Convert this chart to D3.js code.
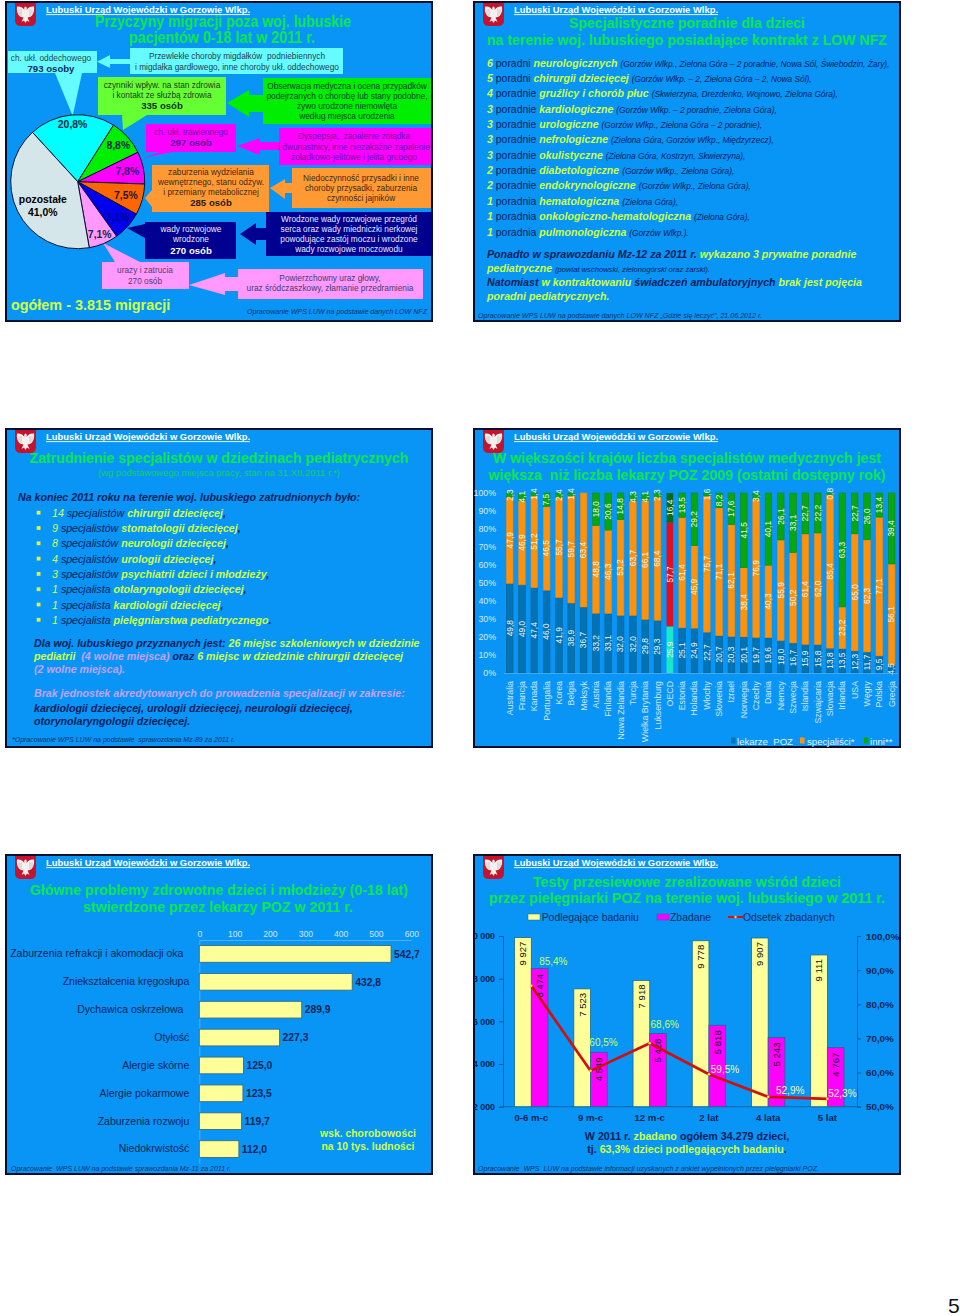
<!DOCTYPE html>
<html lang="pl">
<head>
<meta charset="utf-8">
<title>Lubuski Urząd Wojewódzki</title>
<script src="https://cdnjs.cloudflare.com/ajax/libs/d3/7.8.5/d3.min.js"></script>
<style>
html,body{margin:0;padding:0;background:#fff}
svg{display:block}
text{font-family:"Liberation Sans",Arial,sans-serif}
</style>
</head>
<body>
<svg id="page" width="960" height="1316" viewBox="0 0 960 1316"></svg>
<script>
// ---------- DATA ----------
const pieLabels = ["20,8%","8,8%","7,8%","7,5%","7,1%","7,1%","41,0%"];
const pieValues = [20.8,8.8,7.8,7.5,7.1,7.1,41.0];

const clinicCounts = ["6","5","4","3","3","3","3","2","2","1","1","1"];
const clinicWords  = ["poradni","poradni","poradnie","poradnie","poradnie","poradnie","poradnie","poradnie","poradnie","poradnia","poradnia","poradnia"];
const clinicNames  = ["neurologicznych","chirurgii dziecięcej","gruźlicy i chorób płuc","kardiologiczne","urologiczne","nefrologiczne","okulistyczne","diabetologiczne","endokrynologiczne","hematologiczna","onkologiczno-hematologiczna","pulmonologiczna"];
const clinicPlaces = ["(Gorzów Wlkp., Zielona Góra – 2 poradnie, Nowa Sól, Świebodzin, Żary),","(Gorzów Wlkp. – 2, Zielona Góra – 2, Nowa Sól),","(Skwierzyna, Drezdenko, Wojnowo, Zielona Góra),","(Gorzów Wlkp. – 2 poradnie, Zielona Góra),","(Gorzów Wlkp., Zielona Góra – 2 poradnie),","(Zielona Góra, Gorzów Wlkp., Międzyrzecz),","(Zielona Góra, Kostrzyn, Skwierzyna),","(Gorzów Wlkp., Zielona Góra),","(Gorzów Wlkp., Zielona Góra),","(Zielona Góra),","(Zielona Góra),","(Gorzów Wlkp.)."];

const specCounts = ["14","9","8","4","3","1","1","1"];
const specWords  = ["specjalistów","specjalistów","specjalistów","specjalistów","specjalistów","specjalista","specjalista","specjalista"];
const specNames  = ["chirurgii dziecięcej","stomatologii dziecięcej","neurologii dziecięcej","urologii dziecięcej","psychiatrii dzieci i młodzieży","otolaryngologii dziecięcej","kardiologii dziecięcej","pielęgniarstwa pediatrycznego"];

const countries = ["Australia","Francja","Kanada","Portugalia","Korea","Belgia","Meksyk","Austria","Finlandia","Nowa Zelandia","Turcja","Wielka Brytania","Luksemburg","OECD","Estonia","Holandia","Włochy","Słowenia","Izrael","Norwegia","Czechy","Dania","Niemcy","Szwecja","Islandia","Szwajcaria","Słowacja","Irlandia","USA","Węgry","Polska","Grecja"];
const gpShare    = [49.8,49.0,47.4,46.0,41.9,38.9,36.7,33.2,33.1,32.0,32.0,29.8,29.3,25.9,25.1,24.9,22.7,20.7,20.3,20.1,19.7,19.6,18.0,16.7,15.9,15.8,13.8,13.5,12.3,11.7,9.5,4.5];
const specShare  = [47.9,46.9,51.2,46.5,55.7,59.7,63.4,48.8,46.3,53.2,63.7,66.1,68.4,57.7,61.4,45.9,75.7,71.1,62.1,38.4,76.9,40.3,55.9,50.2,61.4,62.0,85.4,23.2,65.0,62.3,77.1,56.1];
const otherShare = [2.3,4.1,1.4,7.5,2.4,1.4,0,18.0,20.6,14.8,4.3,4.1,2.3,16.4,13.5,29.2,1.6,8.2,17.6,41.5,3.4,40.1,26.1,33.1,22.7,22.2,0.8,63.3,22.7,26.0,13.4,39.4];

const problemNames  = ["Zaburzenia refrakcji i akomodacji oka\u00A0\u00A0","Zniekształcenia kręgosłupa","Dychawica oskrzelowa\u00A0\u00A0","Otyłość","Alergie skórne","Alergie pokarmowe","Zaburzenia rozwoju","Niedokrwistość"];
const problemValues = [542.7,432.8,289.9,227.3,125.0,123.5,119.7,112.0];
const problemTicks  = [0,100,200,300,400,500,600];

const ageGroups   = ["0-6 m-c","9 m-c","12 m-c","2 lat","4 lata","5 lat"];
const eligible    = [9927,7523,7918,9778,9907,9111];
const examined    = [8474,4549,5428,5818,5243,4767];
const examinedPct = [85.4,60.5,68.6,59.5,52.9,52.3];
const countTicks  = [2000,4000,6000,8000,10000];
const pctTicks    = [50,60,70,80,90,100];

// ---------- STYLE ----------
const C = {panel:"#0895f6", edge:"#06102e", title:"#0de74e", navy:"#00205c", yellow:"#ccff44", lav:"#c9a0f5", white:"#ffffff", ax:"#dbe9f6"};
const svg = d3.select("#page");
svg.append("rect").attr("width",960).attr("height",1316).attr("fill","#fff");

function txt(g,x,y,s,o={}){
  return g.append("text").attr("x",x).attr("y",y).text(s)
    .attr("font-size",o.size||8.3).attr("fill",o.fill||"#000")
    .attr("font-weight",o.bold?"bold":"normal").attr("font-style",o.italic?"italic":"normal")
    .attr("text-anchor",o.anchor||"start");
}
function rich(g,x,y,parts,anchor){
  const t=g.append("text").attr("x",x).attr("y",y).attr("text-anchor",anchor||"start").attr("xml:space","preserve");
  parts.forEach(p=>t.append("tspan").text(p[0]).attr("fill",p[1]||C.navy).attr("font-size",p[2]||10.65)
    .attr("font-weight",p[3]===false?"normal":"bold").attr("font-style",p[4]===false?"normal":"italic"));
  return t;
}
function panel(id,x,y,w,h){
  const cid="clip"+id;
  svg.append("clipPath").attr("id",cid).append("rect").attr("x",x).attr("y",y).attr("width",w).attr("height",h);
  svg.append("rect").attr("x",x).attr("y",y).attr("width",w).attr("height",h).attr("fill",C.panel).attr("stroke",C.edge).attr("stroke-width",2);
  const g=svg.append("g").attr("clip-path",`url(#${cid})`);
  // shield
  const s=g.append("g").attr("transform",`translate(${x+9},${y+1})`);
  s.append("path").attr("d","M0,0H21V17Q21,23 15,23H6Q0,23 0,17Z").attr("fill","#c4122f");
  s.append("path").attr("d","M10.5,3.5 C12,4 12,6 11.5,7 C13,5 15,3 19,3.5 C19.5,8 18.5,12 15,14 L12.5,14.5 L14.5,19 L12,17.5 L10.5,20 L9,17.5 L6.5,19 L8.5,14.5 L6,14 C2.5,12 1.5,8 2,3.5 C6,3 8,5 9.5,7 C9,6 9,4 10.5,3.5Z").attr("fill","#f3f1ee");
  s.append("path").attr("d","M4,6.5V11.5M6,6V13M15,6V13M17,6.5V11.5").attr("stroke","#b9b6b2").attr("stroke-width",.7);
  const hx=x+40;
  const hy=y+11;
  txt(g,hx,hy,"Lubuski Urząd Wojewódzki w Gorzowie Wlkp.",{size:9.4,bold:true,fill:"#fff"}).attr("textLength",204).attr("lengthAdjust","spacing");
  g.append("line").attr("x1",hx).attr("x2",hx+204).attr("y1",hy+1.6).attr("y2",hy+1.6).attr("stroke","#fff").attr("stroke-width",.9);
  return g;
}
function title(g,cx,y,s,w,size){
  const t=txt(g,cx,y,s,{size:size||15.5,bold:true,fill:C.title,anchor:"middle"});
  if(w) t.attr("textLength",w).attr("lengthAdjust","spacingAndGlyphs");
  return t;
}
function source(g,x,y,s,w,size){
  const t=txt(g,x,y,s,{size:size||7.6,italic:true,fill:"#08306e"}).attr("xml:space","preserve");
  if(w) t.attr("textLength",w).attr("lengthAdjust","spacingAndGlyphs");
  return t;
}

// ---------- PANEL 1: pie with callouts ----------
(function(){
  const g=panel("a",6,2,426,319);
  title(g,223,27,"Przyczyny migracji poza woj. lubuskie",256,16.5);
  title(g,222,43,"pacjentów 0-18 lat w 2011 r.",186,16.5);

  const box=(x0,x1,y0,y1,fill,ptr)=>{
    g.append("polygon").attr("points",ptr.map(p=>p.join(",")).join(" ")).attr("fill",fill);
    g.append("rect").attr("x",x0).attr("y",y0).attr("width",x1-x0).attr("height",y1-y0).attr("fill",fill);
  };
  const cyan="#66fbff",lime="#66ff33",green="#00ee00",mag="#ff00ff",orange="#ff9933",navy="#000090",pink="#ff99ff";
  box(8,97,51,73,cyan,[[55,73],[82,73],[72.7,116]]);
  box(130,343,48,74,cyan,[[130,59],[110,59],[110,55],[97,61.7],[110,68],[110,64],[130,64]]);
  box(98,226,77,115,lime,[[122,115],[147,115],[123,130]]);
  box(263,431,78,124,green,[[263,95],[249,95],[249,90],[227,103],[249,117],[249,112],[263,112]]);
  box(146,236,124,152,mag,[[143,158],[160,152],[172,152]]);
  box(279,431,128,165,mag,[[279,142],[260,142],[260,138],[237,146],[260,155],[260,150],[279,150]]);
  box(152,269,165,212,orange,[[145,198],[152,190],[152,207]]);
  box(292,431,168,208,orange,[[292,183],[285,183],[285,179],[270,188],[285,199],[285,193],[292,193]]);
  box(145,236,222,259,navy,[[127,228],[145,224],[145,238]]);
  box(266,431,212,256,navy,[[266,228],[256,228],[256,223],[240,234],[256,245],[256,240],[266,240]]);
  box(102,189,262,289,pink,[[103,243],[140,262],[115,262]]);
  box(238,423,269,299,pink,[[238,277],[225,277],[225,273],[189,285],[225,295],[225,291],[238,291]]);

  const lines=(cx,ys,arr,fill,boldFill,noBold)=>arr.forEach((s,i)=>{
    const b=!noBold&&/osob|osób/.test(s);
    txt(g,cx,ys[i],s,{size:b?9.6:8.3,bold:b,fill:b?(boldFill||fill):fill,anchor:"middle"}).attr("xml:space","preserve");
  });
  lines(51,[61,72],["ch. ukł. oddechowego","793 osoby"],"#2c4450","#0a2a66");
  lines(237,[59,69.5],["Przewlekłe choroby migdałków  podniebiennych","i migdałka gardłowego, inne choroby ukł. oddechowego"],"#1d3f4f");
  lines(162,[88,98,109],["czynniki wpływ. na stan zdrowia","i kontakt ze służbą zdrowia","335 osób"],"#243a20","#12301a");
  lines(347,[89,99,109,119],["Obserwacja medyczna i ocena przypadków","podejrzanych o chorobę lub stany podobne,","żywo urodzone niemowlęta","według miejsca urodzenia"],"#0c3a30");
  lines(191,[135,146],["ch. ukł. trawiennego","297 osób"],"#6a10a8","#50109a");
  lines(354,[139,150,160],["Dyspepsja,  zapalenie żołądka","i dwunastnicy, inne niezakaźne zapalenie","żołądkowo-jelitowe i jelita grubego"],"#6a10a8");
  lines(211,[175,185,195,206],["zaburzenia wydzielania","wewnętrznego, stanu odżyw.","i przemiany metabolicznej","285 osób"],"#3a2a1a","#2a1a10");
  lines(361,[181,191,201],["Niedoczynność przysadki i inne","choroby przysadki, zaburzenia","czynności jajników"],"#3a2a1a");
  lines(191,[232,242,254],["wady rozwojowe","wrodzone","270 osób"],"#e8e8ff","#fff");
  lines(349,[222,232,242,252],["Wrodzone wady rozwojowe przegród","serca oraz wady miedniczki nerkowej","powodujące zastój moczu i wrodzone","wady rozwojowe moczowodu"],"#e8e8ff");
  lines(145,[273,284],["urazy i zatrucia","270 osób"],"#50406a","#50406a",true);
  lines(330,[281,291],["Powierzchowny uraz głowy,","uraz śródczaszkowy, złamanie przedramienia"],"#40406a");

  txt(g,11,310,"ogółem - 3.815 migracji",{size:14.4,bold:true,fill:"#d0ff44"});
  source(g,247,314,"Opracowanie WPS LUW na podstawie danych LOW NFZ",180,8);

  // pie
  const cx=77.7, cy=181.7, R=67;
  const sliceFill=["#00ffff","#00ee00","#ff00ff","#ff6600","#0000ee","#ff99ff","#d4e6ea"];
  const labelR=[58,54.5,50.7,50,53.5,57,42];
  const labelFill=["#10284a","#10284a","#30107a","#20183a","#000a80","#10284a","#000"];
  const pieGen=d3.pie().sort(null).startAngle(-42.5*Math.PI/180).endAngle((360-42.5)*Math.PI/180);
  const arcs=pieGen(pieValues);
  const arc=d3.arc().innerRadius(0).outerRadius(R);
  const pg=g.append("g").attr("transform",`translate(${cx},${cy})`);
  pg.selectAll("path").data(arcs).join("path").attr("d",arc)
    .attr("fill",(d,i)=>sliceFill[i]).attr("stroke","#0a1030").attr("stroke-width",1);
  arcs.forEach((d,i)=>{
    const a=(d.startAngle+d.endAngle)/2, r=labelR[i];
    const px=Math.sin(a)*r, py=-Math.cos(a)*r;
    if(i===6){
      txt(pg,px+2.7,py+3,"pozostałe",{size:10.4,bold:true,fill:labelFill[i],anchor:"middle"});
      txt(pg,px+2.7,py+16,pieLabels[i],{size:10.4,bold:true,fill:labelFill[i],anchor:"middle"});
    } else {
      txt(pg,px,py+4,pieLabels[i],{size:10.4,bold:true,fill:labelFill[i],anchor:"middle"});
    }
  });
})();

// ---------- PANEL 2: clinic list ----------
(function(){
  const g=panel("b",474,2,426,319);
  title(g,687,28,"Specjalistyczne poradnie dla dzieci",236);
  title(g,687,45,"na terenie woj. lubuskiego posiadające kontrakt z LOW NFZ",400);
  clinicNames.forEach((n,i)=>{
    rich(g,487,66.5+i*15.37,[
      [clinicCounts[i]+" ",C.yellow,10.6],
      [clinicWords[i]+" ",C.navy,10.4,false,false],
      [n+" ",C.yellow,10.6],
      [clinicPlaces[i],C.navy,8.3,false,true]
    ]);
  });
  rich(g,487,258,[["Ponadto w sprawozdaniu Mz-12 za 2011 r. ",C.navy],["wykazano 3 prywatne poradnie",C.yellow]]);
  rich(g,487,272,[["pediatryczne ",C.yellow],["(powiat wschowski, zielonogórski oraz żarski).",C.navy,7.6,false,true]]);
  rich(g,487,286,[["Natomiast ",C.navy],["w kontraktowaniu ",C.yellow],["świadczeń ambulatoryjnych ",C.navy],["brak jest pojęcia",C.yellow]]);
  rich(g,487,300,[["poradni pediatrycznych.",C.yellow]]);
  source(g,478,318,"Opracowanie WPS LUW na podstawie danych LOW NFZ „Gdzie się leczyć”, 21.06.2012 r.",284);
})();

// ---------- PANEL 3: specialists ----------
(function(){
  const g=panel("c",6,429,426,318);
  title(g,219,463,"Zatrudnienie specjalistów w dziedzinach pediatrycznych",379);
  txt(g,219,476,"(wg podstawowego miejsca pracy, stan na 31.XII.2011 r.*)",{size:8.6,fill:"#14d06a",anchor:"middle"}).attr("textLength",242).attr("lengthAdjust","spacingAndGlyphs");
  rich(g,18,501,[["Na koniec 2011 roku na terenie woj. lubuskiego zatrudnionych było:",C.navy]]);
  specNames.forEach((n,i)=>{
    const y=512.7+i*15.3;
    g.append("rect").attr("x",36.7).attr("y",y-1.9).attr("width",3.8).attr("height",3.8).attr("fill","#e6f03c");
    rich(g,52,y+4,[
      [specCounts[i]+" ",C.yellow,10.65,false,true],
      [specWords[i]+" ",C.navy,10.65,false,true],
      [n,C.yellow,10.65],
      [i===7?".":",",C.navy,10.65]
    ]);
  });
  rich(g,34,647,[["Dla woj. lubuskiego przyznanych jest: ",C.navy],["26 miejsc szkoleniowych w dziedzinie",C.yellow]]);
  rich(g,34,660,[["pediatrii  ",C.yellow],["(4 wolne miejsca) ",C.lav],["oraz ",C.navy],["6 miejsc w dziedzinie chirurgii dziecięcej",C.yellow]]);
  rich(g,34,673,[["(2 wolne miejsca).",C.lav]]);
  rich(g,34,697,[["Brak jednostek akredytowanych do prowadzenia specjalizacji w zakresie:",C.lav]]);
  rich(g,34,712,[["kardiologii dziecięcej, urologii dziecięcej, neurologii dziecięcej,",C.navy]]);
  rich(g,34,725,[["otorynolaryngologii dziecięcej.",C.navy]]);
  source(g,12,742.3,"*Opracowanie WPS LUW na podstawie  sprawozdania Mz-89 za 2011 r.",223);
})();

// ---------- PANEL 4: 100% stacked bars ----------
(function(){
  const g=panel("d",474,429,426,318);
  title(g,687,463,"W większości krajów liczba specjalistów medycznych jest",388);
  title(g,687,480,"większa  niż liczba lekarzy POZ 2009 (ostatni dostępny rok)",397).attr("xml:space","preserve");

  const rows=countries.map((c,i)=>({c,gp:gpShare[i],spec:specShare[i],other:otherShare[i]}));
  const keys=["gp","spec","other"];
  const stack=d3.stack().keys(keys).offset(d3.stackOffsetExpand)(rows);
  const x=d3.scaleBand().domain(countries).range([503.5,897.8]).paddingInner(.46).paddingOuter(.23);
  const y=d3.scaleLinear().domain([0,1]).range([673,493]);
  const fills={gp:"#0274b6",spec:"#ff9208",other:"#0aa60e"};
  const oecd={gp:"#17e8c8",spec:"#e20e22",other:"#0b6a14"};
  const edges={gp:"#0c5f8e",spec:"#d98a28",other:"#0b8a20"};
  const fmt=v=>v.toFixed(1).replace(".",",");

  stack.forEach(s=>{
    g.append("g").selectAll("rect").data(s).join("rect")
      .attr("x",d=>x(d.data.c)).attr("width",x.bandwidth())
      .attr("y",d=>y(d[1])).attr("height",d=>y(d[0])-y(d[1]))
      .attr("fill",d=>d.data.c==="OECD"?oecd[s.key]:fills[s.key])
      .attr("stroke",d=>d.data.c==="OECD"?"none":edges[s.key]).attr("stroke-width",.6);
  });
  stack.forEach(s=>{
    g.append("g").selectAll("text").data(s.filter(d=>d.data[s.key]>0)).join("text")
      .attr("transform",d=>`translate(${x(d.data.c)+x.bandwidth()/2},${y((d[0]+d[1])/2)}) rotate(-90)`)
      .attr("text-anchor","middle").attr("dy",".34em").attr("font-size",8.4)
      .attr("fill","#f2f6ee").text(d=>fmt(d.data[s.key]));
  });

  const ya=d3.axisLeft(y).tickValues(d3.range(0,1.01,.1)).tickSize(0).tickPadding(7).tickFormat(d3.format(".0%"));
  const ay=g.append("g").attr("transform","translate(503,0)").call(ya);
  ay.select(".domain").remove();
  ay.selectAll("text").attr("font-size",8.8).attr("font-family","Liberation Sans").attr("fill",C.ax);

  const xa=d3.axisBottom(x).tickSize(0);
  const ax=g.append("g").attr("transform","translate(0,673)").call(xa);
  ax.select(".domain").attr("stroke","#5db4ee").attr("stroke-width",.7);
  ax.selectAll("text").attr("transform","rotate(-90)").attr("text-anchor","end").attr("x",-8).attr("y",0).attr("dy",".34em")
    .attr("font-size",8.8).attr("font-family","Liberation Sans").attr("fill","#d5e6f6");

  const leg=[["lekarze  POZ",731,737,"#0274b6"],["specjaliści*",800,807,"#ff9208"],["inni**",864,870,"#0aa60e"]];
  leg.forEach(l=>{
    g.append("rect").attr("x",l[1]).attr("y",737.5).attr("width",4.5).attr("height",6).attr("fill",l[3]);
    txt(g,l[2],744.5,l[0],{size:9.6,fill:"#e9f2f8"}).attr("xml:space","preserve");
  });
})();

// ---------- PANEL 5: horizontal bars ----------
(function(){
  const g=panel("e",6,855,426,319);
  title(g,219,895,"Główne problemy zdrowotne dzieci i młodzieży (0-18 lat)",378);
  title(g,218,912,"stwierdzone przez lekarzy POZ w 2011 r.",270);
  const x=d3.scaleLinear().domain([0,600]).range([199.3,411.3]);
  const y=d3.scaleBand().domain(problemNames).range([940,1163]).paddingInner(.4).paddingOuter(.2);
  const fmt=v=>v.toFixed(1).replace(".",",");
  const ax=g.append("g").attr("transform","translate(0,940)").call(d3.axisTop(x).tickValues(problemTicks).tickSize(0).tickPadding(3));
  ax.select(".domain").attr("stroke","#6ab8ee").attr("stroke-width",.8);
  ax.selectAll("text").attr("font-size",8.6).attr("font-family","Liberation Sans").attr("fill","#d5e6f6");
  const ay=g.append("g").attr("transform","translate(199.3,0)").call(d3.axisLeft(y).tickSize(0).tickPadding(10));
  ay.select(".domain").attr("stroke","#6ab8ee").attr("stroke-width",.8);
  ay.selectAll("text").attr("font-size",10.5).attr("font-family","Liberation Sans").attr("fill","#0a2458").attr("xml:space","preserve");
  g.append("g").selectAll("rect").data(problemValues).join("rect")
    .attr("x",x(0)).attr("y",(d,i)=>y(problemNames[i])).attr("width",d=>x(d)-x(0)).attr("height",y.bandwidth())
    .attr("fill","#ffff99").attr("stroke","#3a6a80").attr("stroke-width",.9);
  g.append("g").selectAll("text").data(problemValues).join("text")
    .attr("x",d=>x(d)+3).attr("y",(d,i)=>y(problemNames[i])+y.bandwidth()/2).attr("dy",".36em")
    .attr("font-size",10.3).attr("font-weight","bold").attr("fill","#0a2458").text(fmt);
  txt(g,368,1137,"wsk. chorobowości",{size:10.4,bold:true,fill:C.yellow,anchor:"middle"});
  txt(g,368,1149.5,"na 10 tys. ludności",{size:10.4,bold:true,fill:C.yellow,anchor:"middle"});
  source(g,11,1171,"Opracowanie  WPS LUW na podstawie sprawozdania Mz-11 za 2011 r.",220);
})();

// ---------- PANEL 6: combo bars + line ----------
(function(){
  const g=panel("f",474,855,426,319);
  title(g,687,887,"Testy przesiewowe zrealizowane wśród dzieci",308);
  title(g,687,903,"przez pielęgniarki POZ na terenie woj. lubuskiego w 2011 r.",396);

  const x=d3.scaleBand().domain(ageGroups).range([501.7,857]);
  const yL=d3.scaleLinear().domain([2000,10000]).range([1106.7,936]);
  const yR=d3.scaleLinear().domain([50,100]).range([1106.7,936]);
  const cx=a=>x(a)+x.bandwidth()/2;
  const bw=16.7;
  const nf=v=>d3.format(",")(v).replace(/,/g," ");

  const al=g.append("g").attr("transform","translate(503,0)").call(d3.axisLeft(yL).tickValues(countTicks).tickSize(4).tickPadding(4).tickFormat(nf));
  al.selectAll("path,line").attr("stroke","#0f5f96");
  al.selectAll("text").attr("font-size",8.8).attr("font-weight","bold").attr("font-family","Liberation Sans").attr("fill","#0a2458");
  const ar=g.append("g").attr("transform","translate(857,0)").call(d3.axisRight(yR).tickValues(pctTicks).tickSize(4).tickPadding(5).tickFormat(v=>v.toFixed(1).replace(".",",")+"%"));
  ar.selectAll("path,line").attr("stroke","#0f5f96");
  ar.selectAll("text").attr("font-size",9.8).attr("font-weight","bold").attr("font-family","Liberation Sans").attr("fill","#0a2458");
  g.append("line").attr("x1",503).attr("x2",857).attr("y1",yL(2000)).attr("y2",yL(2000)).attr("stroke","#0f5f96").attr("stroke-width",.9);

  const bars=(vals,dx,fill)=>{
    g.append("g").selectAll("rect").data(vals).join("rect")
      .attr("x",(d,i)=>cx(ageGroups[i])+dx).attr("width",bw)
      .attr("y",d=>yL(d)).attr("height",d=>yL(2000)-yL(d))
      .attr("fill",fill).attr("stroke","#1a6a8c").attr("stroke-width",.8);
  };
  bars(eligible,-bw,"#ffff99");
  bars(examined,0,"#ff00ff");
  const barLabels=(vals,dx,inset)=>{
    g.append("g").selectAll("text").data(vals).join("text")
      .attr("transform",(d,i)=>`translate(${cx(ageGroups[i])+dx},${yL(d)+inset}) rotate(-90)`)
      .attr("text-anchor","end").attr("dy",".35em").attr("font-size",9.6).attr("fill","#0c1020").text(nf);
  };
  barLabels(eligible,-bw/2,4);
  barLabels(examined,bw/2,5);

  const line=d3.line().x((d,i)=>cx(ageGroups[i])).y(d=>yR(d));
  g.append("path").datum(examinedPct).attr("d",line).attr("fill","none").attr("stroke","#d0100f").attr("stroke-width",2.7).attr("stroke-linejoin","round");
  g.append("g").selectAll("circle").data(examinedPct).join("circle")
    .attr("cx",(d,i)=>cx(ageGroups[i])).attr("cy",d=>yR(d)).attr("r",1.3).attr("fill","#ffe03c");
  const off=[[22,-21],[13,-25],[15,-15],[16,-1],[22,-3],[15,-2]];
  const labFill=["#ccff55","#ccff55","#ccff55","#f8f8aa","#f8f8aa","#f8f8aa"];
  g.append("g").selectAll("text").data(examinedPct).join("text")
    .attr("x",(d,i)=>cx(ageGroups[i])+off[i][0]).attr("y",(d,i)=>yR(d)+off[i][1])
    .attr("text-anchor","middle").attr("font-size",10).attr("fill",(d,i)=>labFill[i])
    .text(d=>d.toFixed(1).replace(".",",")+"%");

  ageGroups.forEach(a=>txt(g,cx(a),1120.7,a,{size:9.6,bold:true,fill:"#0a2458",anchor:"middle"}));

  // legend
  g.append("rect").attr("x",528).attr("y",914).attr("width",12).attr("height",6).attr("fill","#ffff99").attr("stroke","#1a6a8c").attr("stroke-width",.5);
  txt(g,541.7,921,"Podlegające badaniu",{size:10.4,fill:"#0a2a62"});
  g.append("rect").attr("x",657).attr("y",914).attr("width",12).attr("height",6).attr("fill","#ff00ff").attr("stroke","#1a6a8c").attr("stroke-width",.5);
  txt(g,670,921,"Zbadane",{size:10.4,fill:"#0a2a62"});
  g.append("line").attr("x1",728).attr("x2",743).attr("y1",917).attr("y2",917).attr("stroke","#d8100f").attr("stroke-width",2);
  g.append("circle").attr("cx",735.5).attr("cy",917).attr("r",1.2).attr("fill","#ffe03c");
  txt(g,743,921,"Odsetek zbadanych",{size:10.4,fill:"#0a2a62"});

  rich(g,687,1140,[["W 2011 r. ",C.navy,10.7,true,false],["zbadano ",C.yellow,10.7,true,false],["ogółem 34.279 dzieci,",C.navy,10.7,true,false]],"middle");
  rich(g,687,1153,[["tj. ",C.navy,10.7,true,false],["63,3% dzieci podlegających badaniu",C.yellow,10.7,true,false],[".",C.navy,10.7,true,false]],"middle");
  source(g,478,1171,"Opracowanie  WPS  LUW na podstawie informacji uzyskanych z ankiet wypełnionych przez pielęgniarki POZ.",341);
})();

// page number
txt(svg,948,1313,"5",{size:21,fill:"#111"});
</script>
</body>
</html>
